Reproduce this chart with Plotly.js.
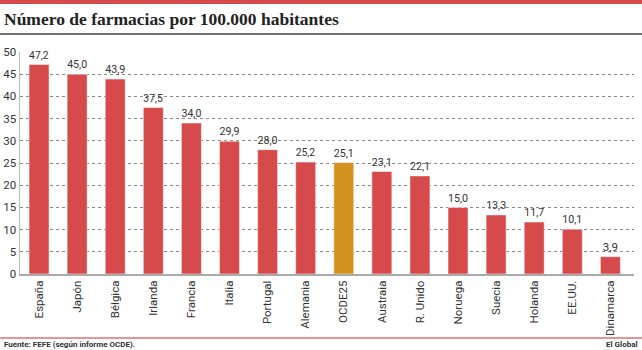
<!DOCTYPE html>
<html><head><meta charset="utf-8">
<script src="https://cdn.plot.ly/plotly-3.0.1.min.js"></script>
<style>body{margin:0;padding:0;background:#fff}#c{width:642px;height:350px}</style>
</head><body><div id="c"></div>
<script>
const countries = ["España","Japón","Bélgica","Irlanda","Francia","Italia","Portugal","Alemania","OCDE25","Austraia","R. Unido","Noruega","Suecia","Holanda","EE.UU.","Dinamarca"];
const values = [47.2,45.0,43.9,37.5,34.0,29.9,28.0,25.2,25.1,23.1,22.1,15.0,13.3,11.7,10.1,3.9];
const highlight = "OCDE25";
const yTicks = [0,5,10,15,20,25,30,35,40,45,50];

const red = "#d64a4b", gold = "#d4921f";
const colors = countries.map(c => c === highlight ? gold : red);

const H = 350, plotTop = 52, plotBottom = 274, plotH = plotBottom - plotTop;
const py = p => (plotBottom - p) / plotH;
const plotL = 20, plotR = 634, plotW = plotR - plotL;
const px = p => (p - plotL) / plotW;

const trace = {
  type: "bar", x: countries, y: values,
  marker: {color: colors, line: {color: "rgba(255,255,255,0.5)", width: 1}},
  texttemplate: "%{y:.1f}", textposition: "outside", cliponaxis: false,
  textfont: {family: "Roboto, Arial, sans-serif", size: 11.5, color: "#333"},
  hoverinfo: "none"
};

const layout = {
  width: 642, height: 350,
  margin: {l: plotL, r: 642 - plotR, t: plotTop, b: H - plotBottom},
  separators: ",.",
  paper_bgcolor: "#fff", plot_bgcolor: "#fff",
  bargap: 0.475,
  showlegend: false,
  font: {family: "Roboto, Arial, sans-serif", size: 11, color: "#333"},
  title: {text: "<b>Número de farmacias por 100.000 habitantes</b>",
    font: {family: "Liberation Serif, serif", size: 17.5, color: "#222"},
    x: 4/642, xref: "container", xanchor: "left",
    y: 1 - 19/350, yref: "container", yanchor: "middle"},
  xaxis: {type: "category", range: [-0.5, 15.62], tickangle: -90,
    tickfont: {family: "Roboto, Arial, sans-serif", size: 11.5, color: "#333"},
    showline: true, linecolor: "#aaa", linewidth: 2, ticks: "", showgrid: false, fixedrange: true},
  yaxis: {range: [0, 50], tickvals: yTicks, ticktext: yTicks.map(String),
    tickfont: {family: "Roboto, Arial, sans-serif", size: 11.5, color: "#333"},
    showline: true, linecolor: "#bbb", linewidth: 1.5, ticks: "",
    showgrid: true, gridcolor: "#888", griddash: "dot", gridwidth: 1,
    zeroline: false, fixedrange: true},
  shapes: [
    {type: "rect", xref: "paper", yref: "paper", x0: px(0), x1: px(642), y0: py(0), y1: py(4), fillcolor: "#d64a4b", line: {width: 0}},
    {type: "line", xref: "paper", yref: "paper", x0: px(0), x1: px(642), y0: py(34), y1: py(34), line: {color: "#444", width: 1.5}},
    {type: "line", xref: "paper", yref: "paper", x0: px(0), x1: px(642), y0: py(338), y1: py(338), line: {color: "#e07070", width: 1.5}}
  ],
  annotations: [
    {text: "<b>Fuente: FEFE (según informe OCDE).</b>", xref: "paper", yref: "paper", x: px(2), y: py(344), xanchor: "left", yanchor: "middle", showarrow: false, font: {family: "Roboto, Arial, sans-serif", size: 8, color: "#333"}},
    {text: "<b>El Global</b>", xref: "paper", yref: "paper", x: px(640), y: py(344), xanchor: "right", yanchor: "middle", showarrow: false, font: {family: "Roboto, Arial, sans-serif", size: 8, color: "#333"}}
  ]
};

Plotly.newPlot("c", [trace], layout, {displayModeBar: false, staticPlot: true});
</script></body></html>
